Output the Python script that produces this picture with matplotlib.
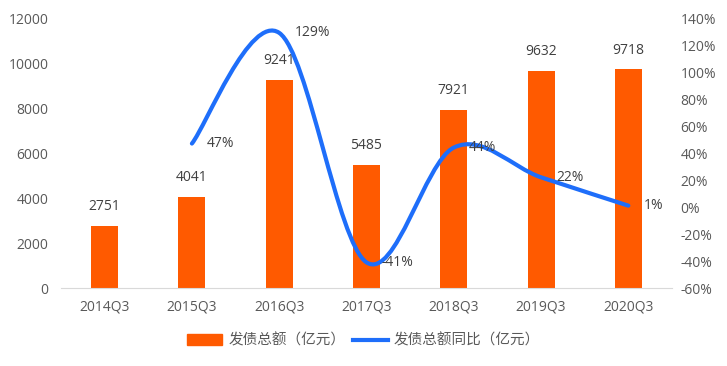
import matplotlib.pyplot as plt
from matplotlib.path import Path
from matplotlib.patches import PathPatch, Patch
from matplotlib.lines import Line2D

plt.rcParams['font.family'] = ['Open Sans', 'Noto Sans CJK SC', 'DejaVu Sans']

quarters = ['2014Q3', '2015Q3', '2016Q3', '2017Q3', '2018Q3', '2019Q3', '2020Q3']
amount = [2751, 4041, 9241, 5485, 7921, 9632, 9718]
growth = [None, 47, 129, -41, 44, 22, 1]

orange = '#FF5A00'
blue = '#1E6EFA'
txt = '#404040'
tick = '#595959'

fig = plt.figure(figsize=(7.27, 3.66), dpi=100)
ax = fig.add_axes([0.0839, 0.2131, 0.8404, 0.7377])
ax2 = ax.twinx()

x = list(range(len(quarters)))
bars = ax.bar(x, amount, width=0.31, color=orange, zorder=2)
ax.set_xlim(-0.5, 6.5)
ax.set_ylim(0, 12000)
ax.set_yticks(range(0, 12001, 2000))
ax.set_xticks(x)
ax.set_xticklabels(quarters)
for a in (ax, ax2):
    for s in ['top', 'left', 'right', 'bottom']:
        a.spines[s].set_visible(False)
    a.tick_params(length=0, colors=tick, labelsize=10)
ax.spines['bottom'].set_visible(True)
ax.spines['bottom'].set_color('#D9D9D9')
ax.tick_params(axis='y', pad=9)
ax.tick_params(axis='x', pad=8)
ax2.tick_params(axis='y', pad=6)

for xi, v in zip(x, amount):
    ax.annotate(str(v), (xi, v), xytext=(0, 8.5), textcoords='offset points',
                ha='center', va='bottom', fontsize=10, color=txt)

ax2.set_ylim(-60, 140)
ax2.set_yticks(range(-60, 141, 20))
ax2.set_yticklabels(['%d%%' % t for t in range(-60, 141, 20)])

# smoothed line (Excel-style Catmull-Rom bezier)
pts = [(xi, g) for xi, g in zip(x, growth) if g is not None]
verts = [pts[0]]
codes = [Path.MOVETO]
n = len(pts)
for i in range(n - 1):
    p0 = pts[i - 1] if i > 0 else pts[i]
    p1 = pts[i]
    p2 = pts[i + 1]
    p3 = pts[i + 2] if i + 2 < n else pts[i + 1]
    c1 = (p1[0] + (p2[0] - p0[0]) / 6, p1[1] + (p2[1] - p0[1]) / 6)
    c2 = (p2[0] - (p3[0] - p1[0]) / 6, p2[1] - (p3[1] - p1[1]) / 6)
    verts += [c1, c2, p2]
    codes += [Path.CURVE4] * 3
ax2.add_patch(PathPatch(Path(verts, codes), facecolor='none', edgecolor=blue,
                        lw=3, capstyle='round', zorder=3))

for xi, g in pts:
    ax2.annotate('%d%%' % g, (xi, g), xytext=(11, 0), textcoords='offset points',
                 ha='left', va='center', fontsize=10, color=txt)

handles = [Patch(color=orange), Line2D([], [], color=blue, lw=3)]
labels = ['发债总额（亿元）', '发债总额同比（亿元）']
fig.legend(handles, labels, loc='center', bbox_to_anchor=(0.5, 0.068), ncol=2,
           frameon=False, fontsize=10.5, labelcolor=tick, handlelength=2.4,
           handletextpad=0.4, columnspacing=0.5)

fig.savefig('out.png', dpi=100)
